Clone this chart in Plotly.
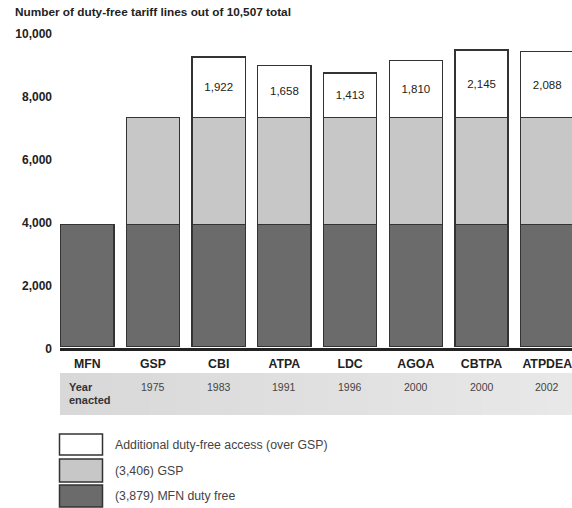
import plotly.graph_objects as go

# ---- data ----
programs = ["MFN", "GSP", "CBI", "ATPA", "LDC", "AGOA", "CBTPA", "ATPDEA"]
years = ["", "1975", "1983", "1991", "1996", "2000", "2000", "2002"]
mfn_duty_free = [3879, 3879, 3879, 3879, 3879, 3879, 3879, 3879]
gsp_lines = [None, 3406, 3406, 3406, 3406, 3406, 3406, 3406]
additional = [None, None, 1922, 1658, 1413, 1810, 2145, 2088]
legend_labels = ["Additional duty-free access (over GSP)", "(3,406) GSP", "(3,879) MFN duty free"]
title_text = "Number of duty-free tariff lines out of 10,507 total"
y_ticks = [0, 2000, 4000, 6000, 8000, 10000]

# ---- style ----
W, H = 572, 508
ML, MR, MT, MB = 60, 0, 32, 161
PW = W - ML - MR
PH = H - MT - MB
FONT = "Liberation Sans, Arial, sans-serif"
DARK = "#6b6b6b"
LIGHT = "#c7c7c7"
WHITE = "#ffffff"
EDGE = "#333333"


def px(x):
    return (x - ML) / PW


def py(y):
    return (H - MB - y) / PH


fig = go.Figure()
fig.add_trace(go.Bar(x=programs, y=mfn_duty_free, name=legend_labels[2],
                     marker=dict(color=DARK, line=dict(color=EDGE, width=1.3)),
                     hoverinfo="skip"))
fig.add_trace(go.Bar(x=programs, y=gsp_lines, name=legend_labels[1],
                     marker=dict(color=LIGHT, line=dict(color=EDGE, width=1.3)),
                     hoverinfo="skip"))
fig.add_trace(go.Bar(x=programs, y=additional, name=legend_labels[0],
                     marker=dict(color=WHITE, line=dict(color=EDGE, width=1.3)),
                     text=[f"{v:,}" if v else "" for v in additional],
                     textposition="inside", insidetextanchor="middle", textangle=0,
                     constraintext="none",
                     textfont=dict(family=FONT, size=11.5, color="#222222"),
                     hoverinfo="skip"))

shapes = []
# gray gradient band for "Year enacted"
n = 40
for i in range(n):
    t = i / (n - 1)
    g = int(round(0xd8 + (0xe8 - 0xd8) * t))
    col = f"rgb({g},{g},{g})"
    shapes.append(dict(type="rect", xref="paper", yref="paper",
                       x0=i / n, x1=(i + 1) / n + 0.002, y0=py(415), y1=py(373),
                       fillcolor=col, line=dict(width=0), layer="below"))
# thick baseline
shapes.append(dict(type="line", xref="paper", yref="paper", x0=0, x1=1,
                   y0=py(349.5), y1=py(349.5), line=dict(color="#222222", width=3),
                   layer="above"))

# legend boxes
legend_colors = [WHITE, LIGHT, DARK]
box_y = [(434, 455), (459, 482), (485, 507)]
for c, (a, b) in zip(legend_colors, box_y):
    shapes.append(dict(type="rect", xref="paper", yref="paper",
                       x0=px(59.5), x1=px(102.5), y0=py(b), y1=py(a),
                       fillcolor=c, line=dict(color=EDGE, width=1.5)))

annotations = []
annotations.append(dict(text=f"<b>{title_text}</b>", xref="paper", yref="paper",
                        x=px(13), y=py(11.5), xanchor="left", yanchor="middle",
                        showarrow=False, font=dict(family=FONT, size=11.8, color="#222222")))
for p, yr in zip(programs, years):
    if yr:
        annotations.append(dict(text=yr, xref="x", yref="paper", x=p, y=py(386.5),
                                xanchor="center", yanchor="middle", showarrow=False,
                                font=dict(family=FONT, size=10.5, color="#444444")))
annotations.append(dict(text="<b>Year</b>", xref="paper", yref="paper", x=px(66.5), y=py(386.5),
                        xanchor="left", yanchor="middle", showarrow=False,
                        font=dict(family=FONT, size=11, color="#333333")))
annotations.append(dict(text="<b>enacted</b>", xref="paper", yref="paper", x=px(66.5), y=py(400),
                        xanchor="left", yanchor="middle", showarrow=False,
                        font=dict(family=FONT, size=11, color="#333333")))
for lab, (a, b) in zip(legend_labels, box_y):
    annotations.append(dict(text=lab, xref="paper", yref="paper", x=px(112.5), y=py((a + b) / 2),
                            xanchor="left", yanchor="middle", showarrow=False,
                            font=dict(family=FONT, size=12.3, color="#444444")))

fig.update_layout(
    width=W, height=H,
    margin=dict(l=ML, r=MR, t=MT, b=MB, pad=0),
    paper_bgcolor="white", plot_bgcolor="white",
    barmode="stack", bargap=0.19,
    showlegend=False,
    shapes=shapes, annotations=annotations,
    font=dict(family=FONT),
)
fig.update_xaxes(range=[-0.4155, 7.377], showgrid=False, zeroline=False, showline=False,
                 ticks="", tickfont=dict(family=FONT, size=12.3, color="#222222", weight="bold"),
                 ticklabelstandoff=8)
fig.update_yaxes(range=[0, 10000], tickvals=y_ticks, tickformat=",", showgrid=False,
                 zeroline=False, showline=False, ticks="",
                 tickfont=dict(family=FONT, size=12, color="#222222", weight="bold"),
                 ticklabelstandoff=7, ticklabelshift=2)

fig.write_html("out.html")
